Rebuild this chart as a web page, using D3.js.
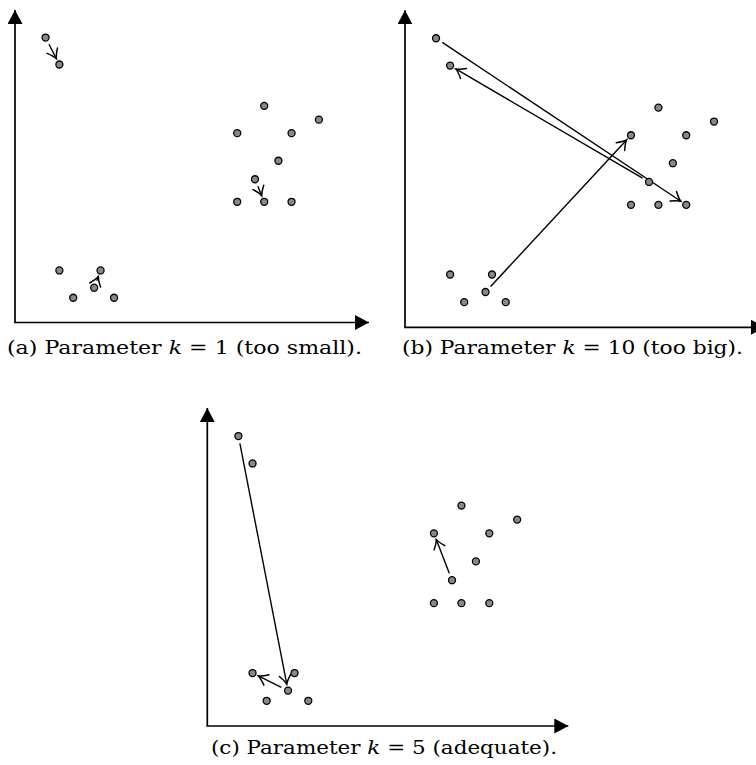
<!DOCTYPE html>
<html>
<head>
<meta charset="utf-8">
<script src="https://cdn.jsdelivr.net/npm/d3@7"></script>
<style>
  body { margin: 0; background: #fff; }
  svg { display: block; }
</style>
</head>
<body>
<svg id="chart" width="756" height="765"></svg>
<script>
// the same 16 points appear in every panel (data units 0..100)
const pointX = [8.6, 12.5, 70.2, 85.6, 62.6, 77.9, 74.2, 67.6, 62.6, 70.2, 77.9, 12.5, 24.1, 22.3, 16.4, 27.9];
const pointY = [90.9, 82.3, 69.1, 64.7, 60.4, 60.4, 51.6, 45.7, 38.5, 38.5, 38.5, 16.6, 16.6, 11.1, 7.9, 7.9];

// moves for each k: [from point, to point]
const movesA = [[0, 1], [7, 9], [13, 12]];
const movesB = [[0, 10], [7, 1], [13, 4]];
const movesC = [[0, 13], [13, 11], [7, 4]];

const panelLabels = ["(a)", "(b)", "(c)"];
const kValues = ["1", "10", "5"];
const notes = ["too small", "too big", "adequate"];

const panels = [
  { moves: movesA, x0: 15, x1: 370, y0: 322.5, y1: 9, capX: 7, capY: 354, capW: 355 },
  { moves: movesB, x0: 405, x1: 766, y0: 327.3, y1: 9.3, capX: 402, capY: 354, capW: 341 },
  { moves: movesC, x0: 207.3, x1: 569.3, y0: 726, y1: 407, capX: 211, capY: 754, capW: 346 }
];

const svg = d3.select("#chart");
const defs = svg.append("defs");

defs.append("marker")
  .attr("id", "axis-head")
  .attr("viewBox", "-14 -7.5 14 15")
  .attr("refX", 0).attr("refY", 0)
  .attr("markerUnits", "userSpaceOnUse")
  .attr("markerWidth", 14).attr("markerHeight", 15)
  .attr("orient", "auto")
  .append("path")
  .attr("d", "M-14,-7.5L0,0L-14,7.5Z")
  .attr("fill", "#000");

defs.append("marker")
  .attr("id", "move-head")
  .attr("viewBox", "-12 -8 14 16")
  .attr("refX", 0).attr("refY", 0)
  .attr("markerUnits", "userSpaceOnUse")
  .attr("markerWidth", 14).attr("markerHeight", 16)
  .attr("orient", "auto")
  .append("path")
  .attr("d", "M-9,-5.8Q-3.5,-1.2 0,0Q-3.5,1.2 -9,5.8")
  .attr("fill", "none")
  .attr("stroke", "#000")
  .attr("stroke-width", 1.5)
  .attr("stroke-linecap", "round");

const pts = pointX.map((x, i) => ({ x, y: pointY[i] }));

panels.forEach((p, pi) => {
  const x = d3.scaleLinear().domain([0, 100]).range([p.x0, p.x1]);
  const y = d3.scaleLinear().domain([0, 100]).range([p.y0, p.y1]);
  const g = svg.append("g");

  // axes
  g.append("line")
    .attr("x1", x(0)).attr("y1", y(0)).attr("x2", x(0)).attr("y2", y(100) + 1)
    .attr("stroke", "#000").attr("stroke-width", 1.7)
    .attr("marker-end", "url(#axis-head)");
  g.append("line")
    .attr("x1", x(0) - 0.85).attr("y1", y(0)).attr("x2", x(100) - 1).attr("y2", y(0))
    .attr("stroke", "#000").attr("stroke-width", 1.7)
    .attr("marker-end", "url(#axis-head)");

  // moves
  const startGap = 7.5, endGap = 6.5;
  g.selectAll(".move")
    .data(p.moves)
    .enter().append("line")
    .attr("class", "move")
    .each(function (m) {
      const sx = x(pts[m[0]].x), sy = y(pts[m[0]].y);
      const tx = x(pts[m[1]].x), ty = y(pts[m[1]].y);
      const len = Math.hypot(tx - sx, ty - sy);
      const ux = (tx - sx) / len, uy = (ty - sy) / len;
      d3.select(this)
        .attr("x1", sx + ux * startGap).attr("y1", sy + uy * startGap)
        .attr("x2", tx - ux * endGap).attr("y2", ty - uy * endGap);
    })
    .attr("stroke", "#000")
    .attr("stroke-width", 1.4)
    .attr("marker-end", "url(#move-head)");

  // points
  g.selectAll(".pt")
    .data(pts)
    .enter().append("circle")
    .attr("class", "pt")
    .attr("cx", d => x(d.x))
    .attr("cy", d => y(d.y))
    .attr("r", 3.5)
    .attr("fill", "#888")
    .attr("stroke", "#000")
    .attr("stroke-width", 1.3);

  // caption
  const cap = g.append("text")
    .attr("x", p.capX).attr("y", p.capY)
    .attr("font-family", "'DejaVu Serif', serif")
    .attr("font-size", "18px")
    .attr("fill", "#000")
    .attr("textLength", p.capW)
    .attr("lengthAdjust", "spacingAndGlyphs");
  cap.append("tspan").text(panelLabels[pi] + " Parameter ");
  cap.append("tspan").attr("font-style", "italic").text("k");
  cap.append("tspan").text(" = " + kValues[pi] + " (" + notes[pi] + ").");
});
</script>
</body>
</html>
